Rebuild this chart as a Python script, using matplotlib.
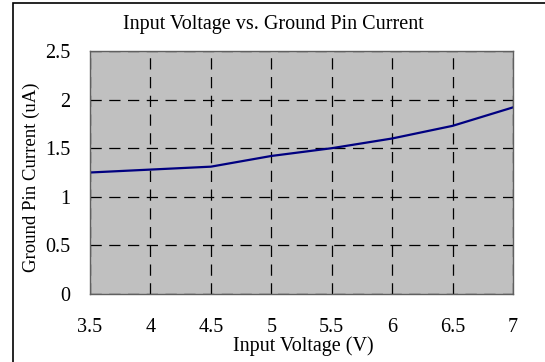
import matplotlib.pyplot as plt
from matplotlib.patches import Rectangle

voltage = [3.5, 4.0, 4.5, 5.0, 5.5, 6.0, 6.5, 7.0]
current = [1.25, 1.28, 1.31, 1.42, 1.50, 1.60, 1.73, 1.92]

x_ticks = [3.5, 4, 4.5, 5, 5.5, 6, 6.5, 7]
x_labels = ["3.5", "4", "4.5", "5", "5.5", "6", "6.5", "7"]
y_ticks = [0, 0.5, 1, 1.5, 2, 2.5]
y_labels = ["0", "0.5", "1", "1.5", "2", "2.5"]

plt.rcParams["font.family"] = ["Liberation Serif", "DejaVu Serif"]

W, H = 545, 362
fig = plt.figure(figsize=(W / 100, H / 100), dpi=100)

# caja negra alrededor del grafico
fig.patches.append(Rectangle((13 / W, -0.1), 1.2, 1 - 3 / H + 0.1,
                             transform=fig.transFigure, fill=False,
                             edgecolor="black", linewidth=1.2))

ax = fig.add_axes([90 / W, 1 - 294 / H, (513 - 90) / W, (294 - 51) / H])
ax.set_facecolor("#c0c0c0")
ax.plot(voltage, current, color="#000080", linewidth=1.6)

ax.set_xlim(3.5, 7)
ax.set_ylim(0, 2.5)
ax.set_xticks(x_ticks)
ax.set_xticklabels(x_labels)
ax.set_yticks(y_ticks)
ax.set_yticklabels(y_labels)
ax.tick_params(length=0, labelsize=14.5, colors="black")
ax.tick_params(axis="x", pad=17)
ax.tick_params(axis="y", pad=14)
ax.grid(True, color="black", linestyle=(0, (9, 6)), linewidth=0.9)
for s in ax.spines.values():
    s.set_color("#606060")
    s.set_linewidth(1.0)

fig.text(273 / W, 1 - 25 / H, "Input Voltage vs. Ground Pin Current",
         ha="center", va="center", fontsize=14.5)
fig.text(303 / W, 1 - 346 / H, "Input Voltage (V)",
         ha="center", va="center", fontsize=14.5)
fig.text(31 / W, 1 - 177 / H, "Ground Pin Current (uA)",
         ha="center", va="center", rotation=90, fontsize=13.5)

fig.savefig("out.png", dpi=100)
